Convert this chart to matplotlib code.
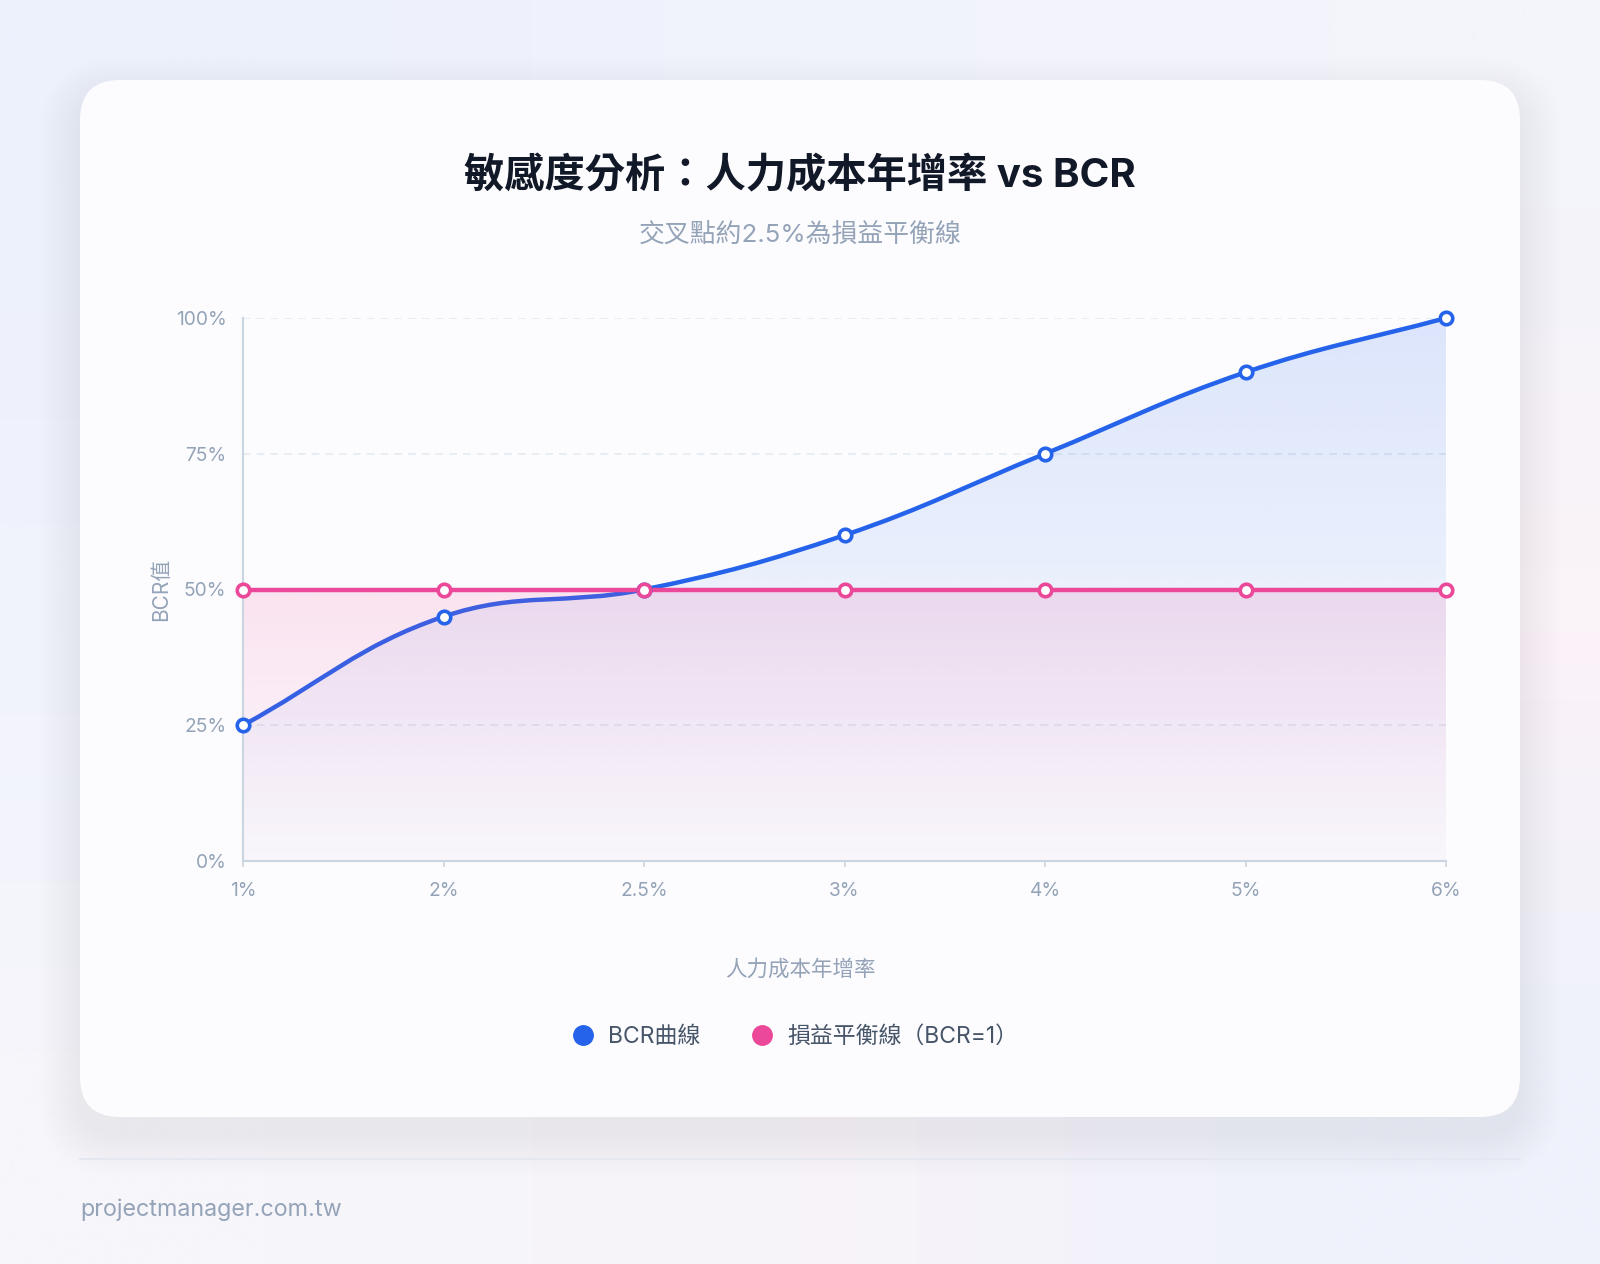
import numpy as np
import matplotlib.pyplot as plt
from matplotlib.path import Path
from matplotlib.patches import PathPatch, FancyBboxPatch
from matplotlib.lines import Line2D
from matplotlib.colors import to_rgb

# data
categories = ['1%', '2%', '2.5%', '3%', '4%', '5%', '6%']
bcr_values = [25, 45, 50, 60, 75, 90, 100]
breakeven_values = [50, 50, 50, 50, 50, 50, 50]
y_ticks = [0, 25, 50, 75, 100]

title = '敏感度分析：人力成本年增率 vs BCR'
subtitle = '交叉點約2.5%為損益平衡線'
x_label = '人力成本年增率'
y_label = 'BCR值'
series_names = ['BCR曲線', '損益平衡線（BCR=1）']
footer = 'projectmanager.com.tw'

BLUE = '#2563eb'
PINK = '#ec4899'
MUTED = '#94a3b8'
plt.rcParams['font.family'] = ['Inter', 'Noto Sans CJK TC', 'DejaVu Sans']

W, H = 1600, 1264
fig = plt.figure(figsize=(W / 100, H / 100), dpi=100)

# page background + card, drawn in pixel coords
bg = fig.add_axes([0, 0, 1, 1], zorder=-10)
bg.set_xlim(0, W)
bg.set_ylim(H, 0)
bg.axis('off')
grad = np.array([[to_rgb('#edf1fc'), to_rgb('#f1f3fc'), to_rgb('#f4f4fb')],
                 [to_rgb('#f1f3fc'), to_rgb('#f6f5fb'), to_rgb('#fbf3f8')],
                 [to_rgb('#f6f6fb'), to_rgb('#f8f4f9'), to_rgb('#eff2fb')]])
bg.imshow(grad, extent=(0, W, H, 0), interpolation='bilinear', aspect='auto')

cx, cy, cw, ch = 80, 80, 1440, 1037
for i in range(14):
    s = 2 + i * 3
    bg.add_patch(FancyBboxPatch((cx - s, cy - s + 18), cw + 2 * s, ch + 2 * s,
                                boxstyle=f'round,pad=0,rounding_size={40 + s}',
                                fc='#5b5f9a', ec='none', alpha=0.0028))
bg.add_patch(FancyBboxPatch((cx, cy), cw, ch, boxstyle='round,pad=0,rounding_size=40',
                            fc='#fcfcfe', ec='none'))

bg.plot([80, 1520], [1159, 1159], color='#e4e7f0', lw=1.3)
bg.text(80, 1210, footer, ha='left', va='center', fontsize=16.8, color=MUTED)
bg.text(800, 176, title, ha='center', va='center', fontsize=29, fontweight='bold', color='#111827')
bg.text(800, 235, subtitle, ha='center', va='center', fontsize=18.6, color=MUTED)

# chart
ax = fig.add_axes([243 / W, 1 - 861 / H, (1446 - 243) / W, (861 - 318) / H])
ax.set_facecolor('none')
x = np.arange(len(categories))
xmax = len(categories) - 1
ax.set_xlim(0, xmax)
ax.set_ylim(0, 100)


def spline_verts(xs, ys, tension=0.4):
    # chart.js style bezier control points, computed in screen space
    pts = ax.transData.transform(np.column_stack([xs, ys]))
    n = len(pts)
    cp_prev = pts.copy()
    cp_next = pts.copy()
    for i in range(n):
        prev = pts[max(i - 1, 0)]
        cur = pts[i]
        nxt = pts[min(i + 1, n - 1)]
        d01 = np.hypot(*(cur - prev))
        d12 = np.hypot(*(nxt - cur))
        tot = d01 + d12
        s01 = d01 / tot if tot else 0
        s12 = d12 / tot if tot else 0
        cp_prev[i] = cur - tension * s01 * (nxt - prev)
        cp_next[i] = cur + tension * s12 * (nxt - prev)
    verts = [pts[0]]
    codes = [Path.MOVETO]
    for i in range(n - 1):
        verts += [cp_next[i], cp_prev[i + 1], pts[i + 1]]
        codes += [Path.CURVE4] * 3
    verts = ax.transData.inverted().transform(np.array(verts))
    verts[:, 1] = np.clip(verts[:, 1], 0, 100)
    return verts, codes


def gradient(color, a_bottom, a_top, y0, y1, z):
    arr = np.zeros((256, 1, 4))
    arr[..., :3] = to_rgb(color)
    arr[:, 0, 3] = np.linspace(a_bottom, a_top, 256)
    return ax.imshow(arr, extent=(0, xmax, y0, y1), origin='lower', aspect='auto',
                     interpolation='bilinear', zorder=z)


verts, codes = spline_verts(x, bcr_values)

# blue area under the BCR curve
fill_verts = np.vstack([verts, [[xmax, 0], [0, 0], verts[0]]])
fill_codes = codes + [Path.LINETO, Path.LINETO, Path.CLOSEPOLY]
area = PathPatch(Path(fill_verts, fill_codes), fc='none', ec='none', transform=ax.transData)
ax.add_patch(area)
im_blue = gradient(BLUE, 0.01, 0.15, 0, 100, 1)
im_blue.set_clip_path(area)

ax.add_patch(PathPatch(Path(verts, codes), fill=False, ec=BLUE, lw=3.2, zorder=2,
                       capstyle='round', joinstyle='round'))

# pink area under break-even line
gradient(PINK, 0.02, 0.14, 0, 50, 2.5)
ax.plot(x, breakeven_values, color=PINK, lw=3.2, zorder=3, solid_capstyle='round')

ax.plot(x, bcr_values, ls='none', marker='o', ms=9, mfc='white', mec=BLUE, mew=2.6,
        zorder=5, clip_on=False)
ax.plot(x, breakeven_values, ls='none', marker='o', ms=9, mfc='white', mec=PINK, mew=2.6,
        zorder=6, clip_on=False)

ax.set_xlim(0, xmax)
ax.set_ylim(0, 100)

ax.set_xticks(x)
ax.set_xticklabels(categories)
ax.set_yticks(y_ticks)
ax.set_yticklabels([f'{v}%' for v in y_ticks])
ax.yaxis.grid(True, color='#e2e8f0', ls=(0, (5, 4)), lw=1.1, zorder=0)
ax.set_axisbelow(True)
for side in ['top', 'right']:
    ax.spines[side].set_visible(False)
for side in ['left', 'bottom']:
    ax.spines[side].set_color('#cbd5e1')
    ax.spines[side].set_linewidth(1.5)
ax.tick_params(axis='y', length=0, pad=12, labelsize=13.8, labelcolor=MUTED)
ax.tick_params(axis='x', length=4.3, width=1.2, color='#cbd5e1', pad=11,
               labelsize=13.8, labelcolor=MUTED)

ax.set_xlabel(x_label, fontsize=15.5, color=MUTED, va='center')
ax.xaxis.set_label_coords((800 - 243) / 1203, -108 / 543)
ax.set_ylabel(y_label, fontsize=15, color=MUTED, va='center')
ax.yaxis.set_label_coords(-82 / 1203, 0.5)

handles = [Line2D([], [], ls='none', marker='o', ms=14, mfc=c, mec=c) for c in (BLUE, PINK)]
fig.legend(handles, series_names, loc='center', bbox_to_anchor=(795 / W, 1 - 1037 / H),
           ncol=2, frameon=False, fontsize=16.5, handlelength=1.0, handletextpad=0.6,
           columnspacing=2.2, labelcolor='#475569')

fig.savefig('out.png', dpi=100, facecolor='white')
